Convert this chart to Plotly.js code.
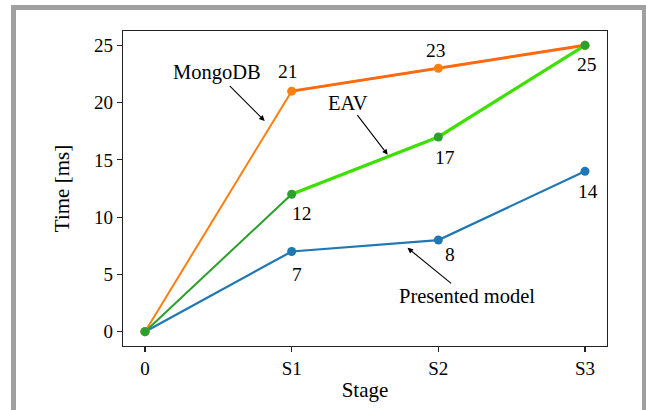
<!DOCTYPE html>
<html>
<head>
<meta charset="utf-8">
<script src="https://cdn.plot.ly/plotly-3.0.1.min.js"></script>
<style>
  html, body { margin: 0; padding: 0; width: 646px; height: 410px; overflow: hidden; background: #ffffff; }
  #frame { position: absolute; left: 11px; top: 5px; width: 626px; height: 420px;
           border-left: 5px solid #a0a0a0; border-top: 5px solid #a0a0a0; border-right: 4px solid #a0a0a0;
           background: #ffffff; }
  #chart { position: absolute; left: 0; top: 0; width: 646px; height: 410px; }
</style>
</head>
<body>
<div id="frame"></div>
<div id="chart"></div>
<script>
// ---- data ----
var stages = ['0', 'S1', 'S2', 'S3'];
var presentedModel = [0, 7, 8, 14];
var mongoDB = [0, 21, 23, 25];
var eav = [0, 12, 17, 25];
var seriesNames = ['Presented model', 'MongoDB', 'EAV'];

// ---- styles ----
var BLUE = '#1f77b4', ORANGE = '#ff7f0e', ORANGE2 = '#ff6a10', GREEN = '#2ca02c', GREEN2 = '#3de000';
var FONT = '"Liberation Serif", "Times New Roman", Times, serif';

function lineTrace(x, y, color, width) {
  return { x: x, y: y, type: 'scatter', mode: 'lines', line: { color: color, width: width }, cliponaxis: false, hoverinfo: 'skip' };
}
function markerTrace(x, y, color) {
  return { x: x, y: y, type: 'scatter', mode: 'markers', marker: { color: color, size: 9 }, cliponaxis: false, hoverinfo: 'skip' };
}

var traces = [
  lineTrace(stages, presentedModel, BLUE, 2.2),
  markerTrace(stages, presentedModel, BLUE),
  lineTrace(stages, mongoDB, ORANGE, 2),
  lineTrace(stages, eav, GREEN, 2),
  lineTrace(stages.slice(1), mongoDB.slice(1), ORANGE2, 3),
  lineTrace(stages.slice(1), eav.slice(1), GREEN2, 3.2),
  markerTrace(stages, mongoDB, ORANGE),
  markerTrace(stages, eav, GREEN)
];

// value labels: [series, index, xshift, yshift]
var valueLabelSpec = [
  [mongoDB, 1, -4, 20], [mongoDB, 2, -2, 18], [mongoDB, 3, 2, -19],
  [eav, 1, 10, -19], [eav, 2, 7, -21],
  [presentedModel, 1, 5, -23], [presentedModel, 2, 12, -14], [presentedModel, 3, 3, -20]
];
var annotations = valueLabelSpec.map(function (s) {
  return { x: stages[s[1]], y: s[0][s[1]], text: String(s[0][s[1]]), showarrow: false,
           xshift: s[2], yshift: s[3], font: { family: FONT, size: 19.5, color: '#000' } };
});

// arrow labels (head positions in axis units, text offset in px)
var arrowSpec = [
  { name: seriesNames[1], x: 0.816, y: 18.4, ax: -48, ay: -48 },
  { name: seriesNames[2], x: 1.655, y: 15.45, ax: -40, ay: -52 },
  { name: seriesNames[0], x: 1.79, y: 7.32, ax: 59, ay: 48 }
];
arrowSpec.forEach(function (a) {
  annotations.push({ x: a.x, y: a.y, xref: 'x', yref: 'y', text: a.name, showarrow: true,
    ax: a.ax, ay: a.ay, arrowhead: 2, arrowsize: 1, arrowwidth: 1.1, arrowcolor: '#000',
    font: { family: FONT, size: 20.5, color: '#000' } });
});

var axisCommon = {
  showline: true, linecolor: '#222', linewidth: 1.1, mirror: true,
  ticks: 'outside', ticklen: 5, tickwidth: 1.1, tickcolor: '#222',
  showgrid: false, zeroline: false,
  tickfont: { family: FONT, size: 19, color: '#000' }
};

var layout = {
  width: 646, height: 410,
  margin: { l: 123, r: 39, t: 31, b: 64 },
  paper_bgcolor: 'rgba(0,0,0,0)', plot_bgcolor: '#ffffff',
  font: { family: FONT },
  showlegend: false, hovermode: false,
  xaxis: Object.assign({}, axisCommon, {
    type: 'category', range: [-0.15, 3.15], categoryorder: 'array', categoryarray: stages,
    title: { text: 'Stage', font: { family: FONT, size: 21, color: '#000' }, standoff: 4 }
  }),
  yaxis: Object.assign({}, axisCommon, {
    range: [-1.25, 26.25], dtick: 5, tick0: 0,
    title: { text: 'Time [ms]', font: { family: FONT, size: 21, color: '#000' }, standoff: 18 }
  }),
  annotations: annotations
};

Plotly.newPlot('chart', traces, layout, { displayModeBar: false, staticPlot: true });
</script>
</body>
</html>
